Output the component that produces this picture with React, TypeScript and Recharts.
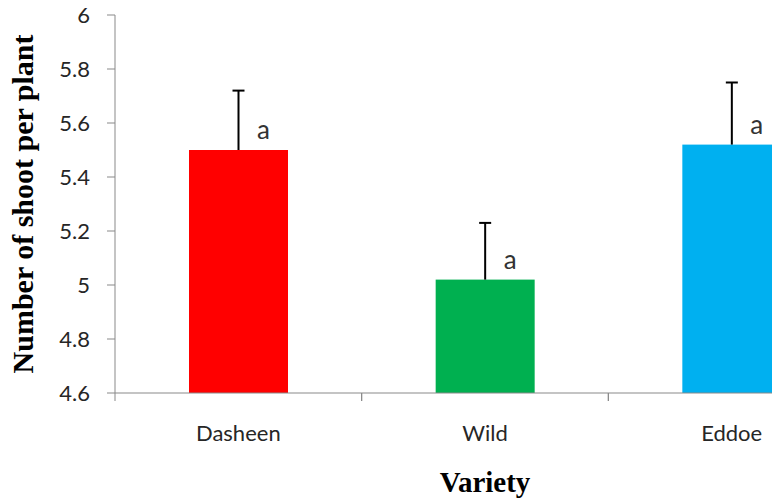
import React from 'react';
import { BarChart, Bar, XAxis, YAxis, LabelList, Label, Cell } from 'recharts';

const VARIETIES = ['Dasheen', 'Wild', 'Eddoe'];
const SHOOTS = [5.5, 5.02, 5.52];
const SHOOT_ERR = [0.22, 0.21, 0.23];
const GROUPS = ['a', 'a', 'a'];
const Y_TICKS = [4.6, 4.8, 5, 5.2, 5.4, 5.6, 5.8, 6];
const COLORS = ['#FF0000', '#00B050', '#00B0F0'];

const Y_MIN = Y_TICKS[0];
const Y_MAX = Y_TICKS[Y_TICKS.length - 1];

const data = VARIETIES.map((name, i) => ({
  name,
  shoots: SHOOTS[i],
  err: SHOOT_ERR[i],
  group: GROUPS[i],
}));

const AXIS = '#898989';
const SANS = 'Lato, "Noto Sans", sans-serif';
const SERIF = '"Liberation Serif", "Times New Roman", serif';

// bar with a one-sided (upward) error bar, scaled from the bar's own height
const BarWithError = (props: any) => {
  const { x, y, width, height, fill, payload } = props;
  const pxPerUnit = height / (payload.shoots - Y_MIN);
  const top = y - payload.err * pxPerUnit;
  const cx = x + width / 2;
  return (
    <g>
      <rect x={x} y={y} width={width} height={height} fill={fill} />
      <line x1={cx} y1={y} x2={cx} y2={top} stroke="#000" strokeWidth={2} />
      <line x1={cx - 6} y1={top} x2={cx + 6} y2={top} stroke="#000" strokeWidth={2} />
    </g>
  );
};

// category label in the middle, tick marks at the category boundaries
const CategoryTick = (props: any) => {
  const { x, y, payload } = props;
  const half = payload.offset ?? 0;
  return (
    <g>
      <line x1={x - half} y1={y - 8} x2={x - half} y2={y} stroke={AXIS} />
      <line x1={x + half} y1={y - 8} x2={x + half} y2={y} stroke={AXIS} />
      <text x={x} y={y + 40} textAnchor="middle" fill="#262626" fontSize={22} fontFamily={SANS}>
        {payload.value}
      </text>
    </g>
  );
};

const GroupLabel = (props: any) => {
  const { x, y, width, value } = props;
  return (
    <text
      x={x + width / 2 + 25}
      y={y - 21}
      textAnchor="middle"
      dominantBaseline="central"
      fill="#333"
      fontSize={26}
      fontFamily={SANS}
    >
      {value}
    </text>
  );
};

const fmt = (v: number) => String(Math.round(v * 10) / 10);

export default function App() {
  return (
    <div
      style={{
        position: 'absolute',
        left: 0,
        top: 0,
        width: 772,
        height: 500,
        overflow: 'hidden',
        background: '#fff',
      }}
    >
      <BarChart
        width={855}
        height={500}
        data={data}
        margin={{ top: 15, right: 0, bottom: 0, left: 0 }}
      >
        <XAxis
          dataKey="name"
          height={107}
          stroke={AXIS}
          tickLine={false}
          tickSize={8}
          tickMargin={0}
          tick={<CategoryTick />}
          interval={0}
        >
          <Label
            value="Variety"
            position="insideBottom"
            offset={8}
            style={{ fontFamily: SERIF, fontWeight: 'bold', fontSize: 29, fill: '#000' }}
          />
        </XAxis>
        <YAxis
          domain={[Y_MIN, Y_MAX]}
          ticks={Y_TICKS}
          width={115}
          stroke={AXIS}
          tickSize={8}
          tickMargin={17}
          tickFormatter={fmt}
          tick={{ fill: '#262626', fontSize: 22, fontFamily: SANS }}
          interval={0}
        >
          <Label
            value="Number of shoot per plant"
            angle={-90}
            position="insideLeft"
            offset={22}
            style={{ textAnchor: 'middle', fontFamily: SERIF, fontWeight: 'bold', fontSize: 30, fill: '#000' }}
          />
        </YAxis>
        <Bar dataKey="shoots" barSize={99} shape={<BarWithError />} isAnimationActive={false}>
          {data.map((d, i) => (
            <Cell key={d.name} fill={COLORS[i]} />
          ))}
          <LabelList dataKey="group" content={<GroupLabel />} />
        </Bar>
      </BarChart>
    </div>
  );
}
